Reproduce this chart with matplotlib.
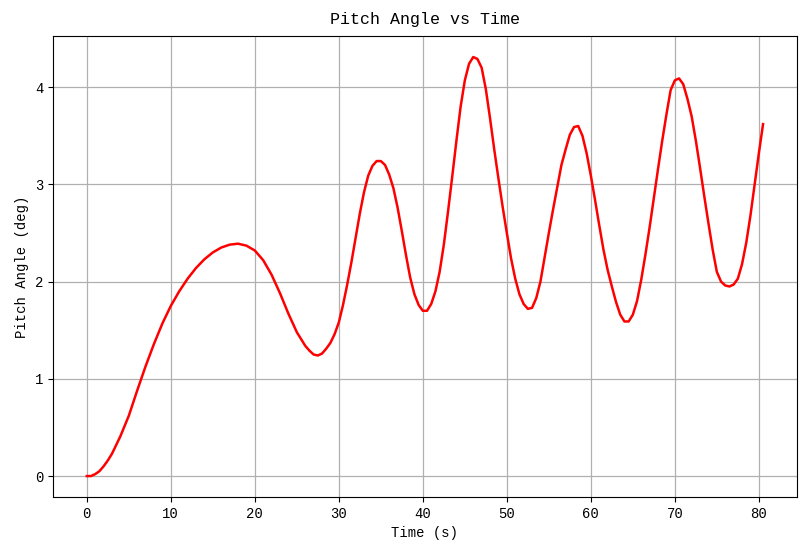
import numpy as np
import matplotlib
matplotlib.use("Agg")
import matplotlib.pyplot as plt

plt.rcParams["font.family"] = ["Liberation Mono", "DejaVu Sans"]

# time (s) and pitch angle (deg)
time_s = [0, 0.5, 1, 1.5, 2, 2.5, 3, 4, 5, 6, 7, 8, 9, 10, 11, 12, 13, 14, 15,
          16, 17, 18, 19, 20, 21, 22, 23, 24, 25, 26, 26.5, 27, 27.5, 28, 28.5,
          29, 29.5, 30, 30.5, 31, 31.5, 32, 32.5, 33, 33.5, 34, 34.5, 35, 35.5,
          36, 36.5, 37, 37.5, 38, 38.5, 39, 39.5, 40, 40.5, 41, 41.5, 42, 42.5,
          43, 43.5, 44, 44.5, 45, 45.5, 46, 46.5, 47, 47.5, 48, 48.5, 49, 49.5,
          50, 50.5, 51, 51.5, 52, 52.5, 53, 53.5, 54, 54.5, 55, 55.5, 56, 56.5,
          57, 57.5, 58, 58.5, 59, 59.5, 60, 60.5, 61, 61.5, 62, 62.5, 63, 63.5,
          64, 64.5, 65, 65.5, 66, 66.5, 67, 67.5, 68, 68.5, 69, 69.5, 70, 70.5,
          71, 71.5, 72, 72.5, 73, 73.5, 74, 74.5, 75, 75.5, 76, 76.5, 77, 77.5,
          78, 78.5, 79, 79.5, 80, 80.5]
pitch_deg = [0.0, 0.0, 0.02, 0.05, 0.1, 0.16, 0.23, 0.41, 0.62, 0.88, 1.13,
             1.36, 1.57, 1.75, 1.9, 2.03, 2.14, 2.23, 2.3,
             2.35, 2.38, 2.39, 2.37, 2.32, 2.22, 2.07, 1.88, 1.67, 1.48, 1.34,
             1.29, 1.25, 1.24, 1.26, 1.31,
             1.37, 1.46, 1.58, 1.76, 1.97, 2.2, 2.45, 2.7, 2.92, 3.09, 3.19,
             3.24, 3.24, 3.2,
             3.1, 2.96, 2.76, 2.52, 2.27, 2.04, 1.87, 1.76, 1.7, 1.7, 1.77,
             1.9, 2.1, 2.38,
             2.72, 3.08, 3.45, 3.8, 4.07, 4.24, 4.31, 4.29, 4.2, 3.98, 3.68,
             3.36, 3.06, 2.77,
             2.5, 2.24, 2.03, 1.87, 1.77, 1.72, 1.73, 1.83, 2.0, 2.25, 2.5,
             2.74, 2.97, 3.2,
             3.36, 3.51, 3.59, 3.6, 3.5, 3.32, 3.09, 2.84, 2.58, 2.33, 2.12,
             1.95, 1.79, 1.66,
             1.59, 1.59, 1.66, 1.8, 2.02, 2.28, 2.56, 2.86, 3.16, 3.45, 3.72,
             3.97, 4.07, 4.09,
             4.03, 3.88, 3.7, 3.45, 3.17, 2.88, 2.6, 2.33, 2.1, 2.0, 1.96,
             1.95, 1.97, 2.03,
             2.18, 2.4, 2.68, 3.0, 3.32, 3.62]

fig = plt.figure(figsize=(8.09, 5.55), dpi=100)
ax = fig.add_axes([0.0655, 0.1045, 0.9195, 0.8305])
ax.plot(time_s, pitch_deg, color="red", linewidth=1.8)
ax.set_title("Pitch Angle vs Time", fontsize=12, pad=9)
ax.set_xlabel("Time (s)")
ax.set_ylabel("Pitch Angle (deg)")
ax.set_xticks(np.arange(0, 81, 10))
ax.set_yticks(np.arange(0, 5, 1))
ax.grid(True, color="#b0b0b0", linewidth=0.9)

fig.savefig("out.png", dpi=100)
